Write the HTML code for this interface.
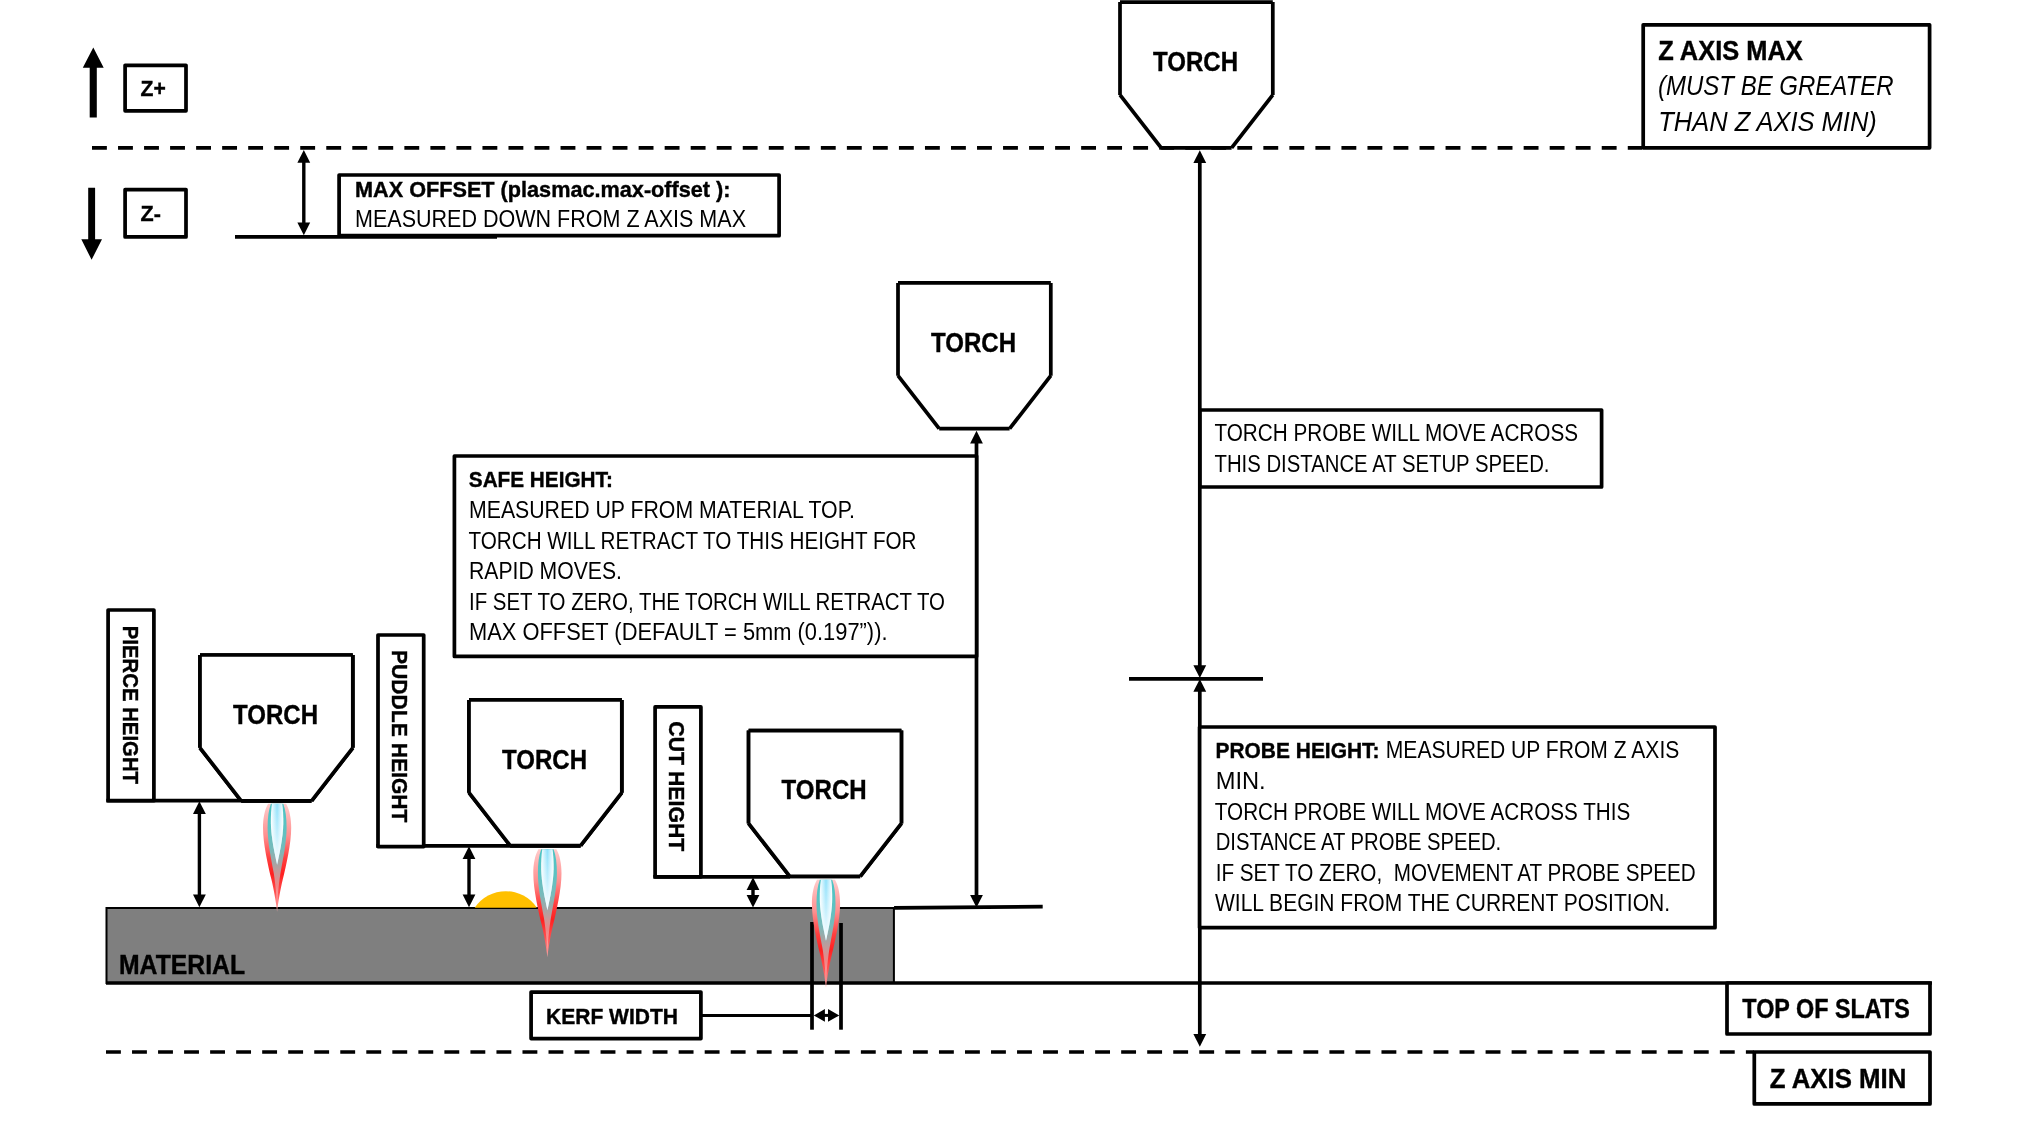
<!DOCTYPE html>
<html><head><meta charset="utf-8"><title>Plasmac heights</title>
<style>
html,body{margin:0;padding:0;background:#fff;}
body{width:2038px;height:1145px;overflow:hidden;font-family:"Liberation Sans",sans-serif;}
svg{display:block;font-family:"Liberation Sans",sans-serif;will-change:transform;}
.k{stroke:#000;stroke-width:3.72;fill:none;}
.b{stroke:#000;stroke-width:3.72;fill:#fff;stroke-linejoin:round;}
.t{stroke:#000;stroke-width:3;fill:none;}
text{fill:#000;}
</style></head><body>
<svg width="2038" height="1145" viewBox="0 0 2038 1145">
<defs>
<linearGradient id="gO" x1="0" y1="0" x2="0" y2="1">
<stop offset="0" stop-color="#FFCCCC"/><stop offset="0.3" stop-color="#FF8E8E"/><stop offset="0.5" stop-color="#FF4040"/><stop offset="0.65" stop-color="#FF2020"/><stop offset="0.82" stop-color="#FF5050"/><stop offset="1" stop-color="#FFA8A8"/>
</linearGradient>
<linearGradient id="gM" x1="0" y1="0" x2="0" y2="1">
<stop offset="0" stop-color="#4AC4C4"/><stop offset="0.25" stop-color="#5CC2C2"/><stop offset="0.45" stop-color="#78BABA"/><stop offset="0.58" stop-color="#A2A6A6"/><stop offset="0.7" stop-color="#CC9696"/><stop offset="0.8" stop-color="#EC8686"/><stop offset="0.9" stop-color="#FF9090"/><stop offset="1" stop-color="#FFB4B4"/>
</linearGradient>
<linearGradient id="gI" x1="0" y1="0" x2="1" y2="0">
<stop offset="0" stop-color="#FFFFFF"/><stop offset="0.5" stop-color="#8FE1FB"/><stop offset="1" stop-color="#FFFFFF"/>
</linearGradient>
<linearGradient id="gW" x1="0" y1="0" x2="0" y2="1">
<stop offset="0" stop-color="#FFFFFF" stop-opacity="0"/><stop offset="0.5" stop-color="#FFFFFF" stop-opacity="0.45"/><stop offset="1" stop-color="#FFFFFF" stop-opacity="1"/>
</linearGradient>
<g id="flame">
<path d="M-9,0 C-12.5,6 -14.1,15 -14.1,24 C-14.1,40 -9,62 -5.6,76 C-3.4,85 -1.1,98 0,108 C1.1,98 3.4,85 5.6,76 C9,62 14.1,40 14.1,24 C14.1,15 12.5,6 9,0 Z" fill="url(#gO)"/>
<path d="M-6.2,0 C-8.5,6 -9.5,14 -9.5,24 C-9.5,38 -6,55 -3.6,68 C-2.2,76 -0.7,90 0,101 C0.7,90 2.2,76 3.6,68 C6,55 9.5,38 9.5,24 C9.5,14 8.5,6 6.2,0 Z" fill="url(#gM)"/>
<path d="M-5.1,0 C-6,6 -6.3,12 -6.2,20 C-6,33 -2.6,49 0,61 C2.6,49 6,33 6.2,20 C6.3,12 6,6 5.1,0 Z" fill="url(#gI)"/>
<path d="M-5.1,0 C-6,6 -6.3,12 -6.2,20 C-6,33 -2.6,49 0,61 C2.6,49 6,33 6.2,20 C6.3,12 6,6 5.1,0 Z" fill="url(#gW)"/>
</g>
<g id="torch">
<path d="M0,0 H152.8 V92.8 L111.6,145.8 H41.2 L0,92.8 Z" fill="#fff"/>
<path class="k" d="M0,0 H152.8 M0,0 V92.8 M152.8,0 V92.8 M0,92.8 L41.2,145.8 M152.8,92.8 L111.6,145.8 M41.2,145.8 H111.6"/>
<text x="33" y="68.9" font-size="26.8" font-weight="bold" stroke="#000" stroke-width="0.4" textLength="85" lengthAdjust="spacingAndGlyphs">TORCH</text>
</g>
<path id="ah" d="M0,0 L6.4,12.7 H-6.4 Z" fill="#000"/>
</defs>
<rect x="0" y="0" width="2038" height="1145" fill="#fff"/>

<line x1="92" y1="147.9" x2="1642" y2="147.9" stroke="#000" stroke-width="3.72" stroke-dasharray="14.87 11.16"/>
<line x1="106" y1="1052" x2="1754" y2="1052" stroke="#000" stroke-width="3.72" stroke-dasharray="14.87 11.16"/>
<path d="M93.3,47.5 L103.7,67.8 H96.8 V117.6 H89.7 V67.8 H82.8 Z" fill="#000"/>
<path d="M91.6,259.8 L102,239.2 H95.1 V187.7 H88.2 V239.2 H81.3 Z" fill="#000"/>
<rect class="b" x="125.1" y="65.3" width="60.9" height="45.5"/>
<rect class="b" x="125.1" y="189.6" width="60.9" height="47.3"/>
<text x="140.5" y="95.8" font-size="22.6" font-weight="bold" font-style="normal" textLength="25.2" lengthAdjust="spacingAndGlyphs" stroke="#000" stroke-width="0.4">Z+</text>
<text x="140.5" y="220.6" font-size="22.6" font-weight="bold" font-style="normal" textLength="20.3" lengthAdjust="spacingAndGlyphs" stroke="#000" stroke-width="0.4">Z-</text>
<line class="k" x1="235" y1="236.9" x2="497" y2="236.9"/>
<rect class="b" x="339.1" y="175" width="440" height="60.7"/>
<text x="355.0" y="197.2" font-size="22.6" font-weight="bold" font-style="normal" textLength="375.5" lengthAdjust="spacingAndGlyphs" stroke="#000" stroke-width="0.4">MAX OFFSET (plasmac.max-offset ):</text>
<text x="355.0" y="227.3" font-size="23" font-weight="normal" font-style="normal" textLength="391.0" lengthAdjust="spacingAndGlyphs">MEASURED DOWN FROM Z AXIS MAX</text>
<line x1="303.8" y1="158" x2="303.8" y2="227.3" stroke="#000" stroke-width="3.4"/><use href="#ah" transform="translate(303.8,150)"/><use href="#ah" transform="translate(303.8,235.3) scale(1,-1)"/>
<rect class="b" x="1643.2" y="24.8" width="286.4" height="123"/>
<text x="1658.2" y="60.0" font-size="26.8" font-weight="bold" font-style="normal" textLength="144.5" lengthAdjust="spacingAndGlyphs" stroke="#000" stroke-width="0.4">Z AXIS MAX</text>
<text x="1658.0" y="94.8" font-size="27.2" font-weight="normal" font-style="italic" textLength="235.5" lengthAdjust="spacingAndGlyphs">(MUST BE GREATER</text>
<text x="1658.3" y="130.9" font-size="27.2" font-weight="normal" font-style="italic" textLength="218.5" lengthAdjust="spacingAndGlyphs">THAN Z AXIS MIN)</text>
<use href="#torch" transform="translate(1120,2.1)"/>
<use href="#torch" transform="translate(898,282.9)"/>
<use href="#torch" transform="translate(200,655)"/>
<use href="#torch" transform="translate(469,699.9)"/>
<use href="#torch" transform="translate(748.6,730.6)"/>
<line x1="1199.8" y1="158" x2="1199.8" y2="670" stroke="#000" stroke-width="3.72"/>
<line x1="1199.8" y1="688" x2="1199.8" y2="1038" stroke="#000" stroke-width="3.72"/>
<use href="#ah" transform="translate(1199.8,150.3)"/>
<use href="#ah" transform="translate(1199.8,677.9) scale(1,-1)"/>
<use href="#ah" transform="translate(1199.8,679.1)"/>
<use href="#ah" transform="translate(1199.8,1046.8) scale(1,-1)"/>
<line class="k" x1="1129" y1="678.9" x2="1263" y2="678.9"/>
<rect class="b" x="1200" y="410" width="401.6" height="77"/>
<text x="1214.5" y="440.5" font-size="23" font-weight="normal" font-style="normal" textLength="363.5" lengthAdjust="spacingAndGlyphs">TORCH PROBE WILL MOVE ACROSS</text>
<text x="1214.5" y="471.5" font-size="23" font-weight="normal" font-style="normal" textLength="335.0" lengthAdjust="spacingAndGlyphs">THIS DISTANCE AT SETUP SPEED.</text>
<rect class="b" x="1199.6" y="727" width="515.4" height="200.7"/>
<text x="1215.5" y="757.9" font-size="22.6" font-weight="bold" font-style="normal" textLength="164.0" lengthAdjust="spacingAndGlyphs" stroke="#000" stroke-width="0.4">PROBE HEIGHT:</text>
<text x="1385.8" y="757.9" font-size="23" font-weight="normal" font-style="normal" textLength="293.5" lengthAdjust="spacingAndGlyphs">MEASURED UP FROM Z AXIS</text>
<text x="1215.7" y="788.9" font-size="23" font-weight="normal" font-style="normal" textLength="50.0" lengthAdjust="spacingAndGlyphs">MIN.</text>
<text x="1214.8" y="819.9" font-size="23" font-weight="normal" font-style="normal" textLength="415.5" lengthAdjust="spacingAndGlyphs">TORCH PROBE WILL MOVE ACROSS THIS</text>
<text x="1215.7" y="850.0" font-size="23" font-weight="normal" font-style="normal" textLength="285.5" lengthAdjust="spacingAndGlyphs">DISTANCE AT PROBE SPEED.</text>
<text x="1215.7" y="880.9" font-size="23" font-weight="normal" font-style="normal" textLength="480.0" lengthAdjust="spacingAndGlyphs">IF SET TO ZERO,&#160;&#160;MOVEMENT AT PROBE SPEED</text>
<text x="1215.0" y="910.9" font-size="23" font-weight="normal" font-style="normal" textLength="455.0" lengthAdjust="spacingAndGlyphs">WILL BEGIN FROM THE CURRENT POSITION.</text>
<line x1="976.5" y1="438" x2="976.5" y2="898" stroke="#000" stroke-width="3.72"/>
<use href="#ah" transform="translate(976.5,430.8)"/>
<use href="#ah" transform="translate(976.5,907.6) scale(1,-1)"/>
<rect class="b" x="454.4" y="456" width="522.2" height="200.4"/>
<text x="468.8" y="486.9" font-size="22.6" font-weight="bold" font-style="normal" textLength="144.0" lengthAdjust="spacingAndGlyphs" stroke="#000" stroke-width="0.4">SAFE HEIGHT:</text>
<text x="469.0" y="517.8" font-size="23" font-weight="normal" font-style="normal" textLength="386.0" lengthAdjust="spacingAndGlyphs">MEASURED UP FROM MATERIAL TOP.</text>
<text x="468.5" y="548.5" font-size="23" font-weight="normal" font-style="normal" textLength="448.0" lengthAdjust="spacingAndGlyphs">TORCH WILL RETRACT TO THIS HEIGHT FOR</text>
<text x="469.0" y="579.1" font-size="23" font-weight="normal" font-style="normal" textLength="153.0" lengthAdjust="spacingAndGlyphs">RAPID MOVES.</text>
<text x="469.0" y="609.7" font-size="23" font-weight="normal" font-style="normal" textLength="476.0" lengthAdjust="spacingAndGlyphs">IF SET TO ZERO, THE TORCH WILL RETRACT TO</text>
<text x="469.0" y="640.3" font-size="23" font-weight="normal" font-style="normal" textLength="418.5" lengthAdjust="spacingAndGlyphs">MAX OFFSET (DEFAULT = 5mm (0.197&#8221;)).</text>
<rect x="106.5" y="908" width="787.4" height="75" fill="#7F7F7F" stroke="#000" stroke-width="2"/>
<text x="119" y="973.5" font-size="26.8" font-weight="bold" stroke="#000" stroke-width="0.4" textLength="126" lengthAdjust="spacingAndGlyphs">MATERIAL</text>
<line x1="106" y1="983" x2="1932" y2="983" stroke="#000" stroke-width="3.72"/>
<line x1="894.1" y1="907.9" x2="1042.7" y2="906.7" stroke="#000" stroke-width="3.72"/>
<path d="M474.7,907.8 A37.4,37.4 0 0 1 536.9,907.8 Z" fill="#FFC000"/>
<line class="k" x1="106.3" y1="800.7" x2="311" y2="800.7"/>
<rect class="b" x="108.1" y="610" width="45.8" height="190.7"/>
<line class="k" x1="376.3" y1="845.9" x2="580.5" y2="845.9"/>
<rect class="b" x="378" y="635" width="45.7" height="211.6"/>
<line class="k" x1="653.3" y1="876.8" x2="790" y2="876.8"/>
<rect class="b" x="655.1" y="706.9" width="45.8" height="169.9"/>
<text transform="translate(122.8,625.8) rotate(90)" font-size="22.6" font-weight="bold" stroke="#000" stroke-width="0.4" textLength="158.2" lengthAdjust="spacingAndGlyphs">PIERCE HEIGHT</text>
<text transform="translate(391.7,650) rotate(90)" font-size="22.6" font-weight="bold" stroke="#000" stroke-width="0.4" textLength="172.5" lengthAdjust="spacingAndGlyphs">PUDDLE HEIGHT</text>
<text transform="translate(669.3,721.3) rotate(90)" font-size="22.6" font-weight="bold" stroke="#000" stroke-width="0.4" textLength="130" lengthAdjust="spacingAndGlyphs">CUT HEIGHT</text>
<use href="#torch" transform="translate(200,655)"/>
<use href="#torch" transform="translate(469,699.9)"/>
<use href="#torch" transform="translate(748.6,730.6)"/>
<line x1="199.4" y1="809.2" x2="199.4" y2="899.2" stroke="#000" stroke-width="3.4"/><use href="#ah" transform="translate(199.4,801.2)"/><use href="#ah" transform="translate(199.4,907.2) scale(1,-1)"/>
<line x1="469" y1="854.3" x2="469" y2="899.2" stroke="#000" stroke-width="3.4"/><use href="#ah" transform="translate(469,846.3)"/><use href="#ah" transform="translate(469,907.2) scale(1,-1)"/>
<line x1="753" y1="885.2" x2="753" y2="899.6" stroke="#000" stroke-width="3.4"/><use href="#ah" transform="translate(753,877.2)"/><use href="#ah" transform="translate(753,907.6) scale(1,-1)"/>
<rect class="b" x="531.1" y="992.1" width="169.8" height="46.5"/>
<text x="546.0" y="1023.8" font-size="22.6" font-weight="bold" font-style="normal" textLength="132.0" lengthAdjust="spacingAndGlyphs" stroke="#000" stroke-width="0.4">KERF WIDTH</text>
<line x1="702" y1="1015.4" x2="812" y2="1015.4" stroke="#000" stroke-width="3"/>
<line class="k" x1="812" y1="922" x2="812" y2="1029.7"/>
<line class="k" x1="841" y1="923" x2="841" y2="1029.7"/>
<path d="M813.8,1015.4 L824.9,1009 V1021.8 Z M839.3,1015.4 L828,1009 V1021.8 Z" fill="#000"/>
<line x1="822" y1="1015.4" x2="831" y2="1015.4" stroke="#000" stroke-width="3"/>
<use href="#flame" transform="translate(277.1,803.8)"/>
<use href="#flame" transform="translate(547.4,849.3)"/>
<use href="#flame" transform="translate(826,879.8)"/>
<rect class="b" x="1727" y="983" width="203" height="51"/>
<text x="1742.3" y="1017.9" font-size="26.8" font-weight="bold" font-style="normal" textLength="167.5" lengthAdjust="spacingAndGlyphs" stroke="#000" stroke-width="0.4">TOP OF SLATS</text>
<rect class="b" x="1754.3" y="1052" width="175.7" height="51.9"/>
<text x="1769.8" y="1087.8" font-size="26.8" font-weight="bold" font-style="normal" textLength="136.5" lengthAdjust="spacingAndGlyphs" stroke="#000" stroke-width="0.4">Z AXIS MIN</text>
</svg></body></html>
